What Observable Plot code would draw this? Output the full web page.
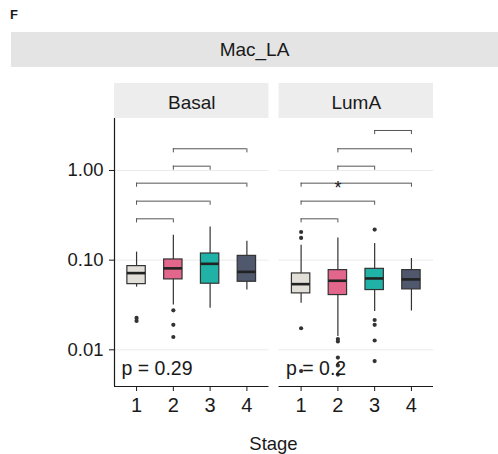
<!DOCTYPE html>
<html>
<head>
<meta charset="utf-8">
<script src="https://cdn.jsdelivr.net/npm/d3@7"></script>
<script src="https://cdn.jsdelivr.net/npm/@observablehq/plot@0.6"></script>
<style>
  html, body { margin: 0; padding: 0; background: #ffffff; }
  body { width: 498px; height: 454px; overflow: hidden; font-family: "Liberation Sans", Arial, sans-serif; color: #1a1a1a; }
  #hdr { position: relative; height: 75px; }
  #tag { position: absolute; left: 10px; top: 8px; font-size: 13px; line-height: 13px; font-weight: bold; }
  #strip { position: absolute; left: 11px; top: 32px; width: 487px; height: 35px; background: #E4E4E4;
           display: flex; align-items: center; justify-content: center; font-size: 19px; }
  #xtitle { margin-left: 114px; width: 319px; text-align: center; font-size: 18.5px; line-height: 22px; padding-top: 13px; }
</style>
</head>
<body>
<div id="hdr">
  <div id="tag">F</div>
  <div id="strip">Mac_LA</div>
</div>
<div id="chart"></div>
<div id="xtitle">Stage</div>
<script>
// ---- data ----
const subtypes = ["Basal", "LumA"];
const stages = [1, 2, 3, 4];
const stageColors = ["#E2DED8", "#E3668C", "#20B2A6", "#4F586C"];
const yTicks = [0.01, 0.1, 1];

const basalQ1 = [0.054, 0.061, 0.0546, 0.0574];
const basalMedian = [0.0717, 0.081, 0.091, 0.074];
const basalQ3 = [0.0858, 0.1018, 0.1186, 0.1116];
const basalLower = [0.050, 0.0316, 0.029, 0.0464];
const basalUpper = [0.123, 0.19, 0.234, 0.1626];
const basalOutliers = [[0.0227, 0.021], [0.0276, 0.019, 0.0139], [], []];

const lumaQ1 = [0.0426, 0.0408, 0.0464, 0.0472];
const lumaMedian = [0.054, 0.0589, 0.0625, 0.061];
const lumaQ3 = [0.0711, 0.0774, 0.080, 0.0774];
const lumaLower = [0.033, 0.0141, 0.0267, 0.0271];
const lumaUpper = [0.147, 0.177, 0.153, 0.1044];
const lumaOutliers = [[0.206, 0.177, 0.0174, 0.0058], [0.0132, 0.0124, 0.0082, 0.0067, 0.0053], [0.219, 0.0215, 0.019, 0.0127, 0.0075], []];

const basalPairs = [[1, 2], [1, 3], [1, 4], [2, 3], [2, 4]];
const basalPairY = [0.289, 0.455, 0.722, 1.117, 1.746];
const basalPairLabels = ["", "", "", "", ""];
const lumaPairs = [[1, 2], [1, 3], [1, 4], [2, 3], [2, 4], [3, 4]];
const lumaPairY = [0.289, 0.455, 0.722, 1.117, 1.746, 2.793];
const lumaPairLabels = ["", "*", "", "", "", ""];

const pLabels = ["p = 0.29", "p = 0.2"];
const pLabelY = 0.0062;

// ---- layout constants (scale space) ----
const xDomain = [0.4, 4.6];
const yDomain = [Math.pow(10, -2.409), Math.pow(10, 0.97)];
const panelTop = Math.pow(10, 0.58);
const stripLabelY = Math.pow(10, 0.75);
const boxHalf = 0.25;
const tipRatio = 0.9;

// ---- tables ----
const statsBy = {
  Basal: {q1: basalQ1, med: basalMedian, q3: basalQ3, lo: basalLower, hi: basalUpper, out: basalOutliers,
          pairs: basalPairs, pairY: basalPairY, pairLab: basalPairLabels},
  LumA: {q1: lumaQ1, med: lumaMedian, q3: lumaQ3, lo: lumaLower, hi: lumaUpper, out: lumaOutliers,
         pairs: lumaPairs, pairY: lumaPairY, pairLab: lumaPairLabels}
};
const boxes = subtypes.flatMap(s => stages.map((stage, i) => ({
  subtype: s, stage, q1: statsBy[s].q1[i], med: statsBy[s].med[i], q3: statsBy[s].q3[i],
  lo: statsBy[s].lo[i], hi: statsBy[s].hi[i], color: stageColors[i]
})));
const outliers = subtypes.flatMap(s => stages.flatMap((stage, i) => statsBy[s].out[i].map(v => ({subtype: s, stage, value: v}))));
const brackets = subtypes.flatMap(s => statsBy[s].pairs.map((p, k) => ({
  subtype: s, x1: p[0], x2: p[1], y: statsBy[s].pairY[k], label: statsBy[s].pairLab[k]
})));
const tips = brackets.flatMap(b => [{subtype: b.subtype, x: b.x1, y: b.y}, {subtype: b.subtype, x: b.x2, y: b.y}]);
const pTable = subtypes.map((s, i) => ({subtype: s, text: pLabels[i]}));

const ink = "#1a1a1a";
const chart = Plot.plot({
  width: 498,
  height: 345,
  marginLeft: 114,
  marginRight: 65,
  marginTop: 8,
  marginBottom: 34,
  style: {fontFamily: "'Liberation Sans', Arial, sans-serif", fontSize: "18px", color: ink, background: "#ffffff"},
  fx: {domain: subtypes, paddingInner: 0.0613, paddingOuter: 0, round: false, axis: null},
  x: {type: "linear", domain: xDomain},
  y: {type: "log", domain: yDomain},
  marks: [
    // strips
    Plot.rect(subtypes, {fx: d => d, x1: xDomain[0], x2: xDomain[1], y1: panelTop, y2: yDomain[1], fill: "#EDEDED"}),
    Plot.text(subtypes, {fx: d => d, x: (xDomain[0] + xDomain[1]) / 2, y: stripLabelY, text: d => d, fontSize: 19, fill: ink}),
    // grid
    Plot.ruleY(yTicks, {x1: xDomain[0], x2: xDomain[1], stroke: "#EBEBEB", strokeWidth: 1}),
    // axes
    Plot.ruleY([yDomain[0]], {x1: xDomain[0], x2: xDomain[1], stroke: ink, strokeWidth: 1.2}),
    Plot.ruleX([subtypes[0]], {fx: d => d, x: xDomain[0], y1: yDomain[0], y2: panelTop, stroke: ink, strokeWidth: 1.2}),
    Plot.axisY({ticks: yTicks, tickFormat: d3.format(".2f"), tickSize: 5, tickPadding: 6, fontSize: 18.5, label: null, stroke: ink}),
    Plot.axisX({ticks: stages, tickFormat: d => String(d), tickSize: 5, tickPadding: 6, fontSize: 20, label: null, stroke: ink}),
    // boxplots
    Plot.ruleX(boxes, {fx: "subtype", x: "stage", y1: "lo", y2: "hi", stroke: "#333", strokeWidth: 1.2}),
    Plot.rect(boxes, {fx: "subtype", x1: d => d.stage - boxHalf, x2: d => d.stage + boxHalf, y1: "q1", y2: "q3",
                      fill: "color", stroke: "#333", strokeWidth: 1.2}),
    Plot.ruleY(boxes, {fx: "subtype", y: "med", x1: d => d.stage - boxHalf, x2: d => d.stage + boxHalf, stroke: "#222", strokeWidth: 2.6}),
    Plot.dot(outliers, {fx: "subtype", x: "stage", y: "value", r: 2.1, fill: "#333", stroke: null}),
    // significance brackets
    Plot.ruleY(brackets, {fx: "subtype", y: "y", x1: "x1", x2: "x2", stroke: "#555", strokeWidth: 1}),
    Plot.ruleX(tips, {fx: "subtype", x: "x", y1: d => d.y * tipRatio, y2: "y", stroke: "#555", strokeWidth: 1}),
    Plot.text(brackets.filter(b => b.label), {fx: "subtype", x: d => (d.x1 + d.x2) / 2, y: "y", text: "label", dy: -13, fontSize: 18, fill: ink}),
    // p-values
    Plot.text(pTable, {fx: "subtype", x: xDomain[0], y: pLabelY, text: "text", textAnchor: "start", dx: 7, fontSize: 19.5, fill: ink})
  ]
});
document.getElementById("chart").appendChild(chart);
</script>
</body>
</html>
